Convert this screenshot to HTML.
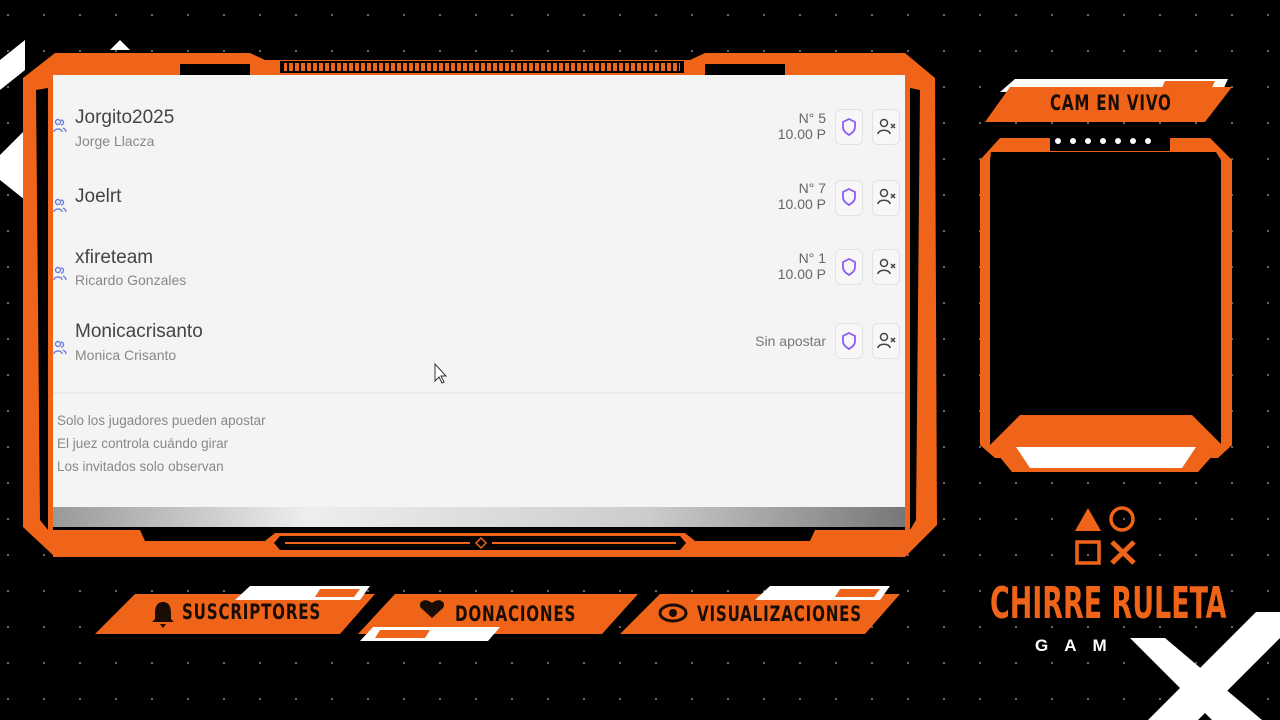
<!DOCTYPE html>
<html><head><meta charset="utf-8"><style>
html,body{margin:0;width:1280px;height:720px;overflow:hidden}
body{background:#000;position:relative;font-family:"Liberation Sans","DejaVu Sans",sans-serif}
svg{overflow:hidden}
.abs{position:absolute}
.panel{left:53px;top:75px;width:852px;height:432px;background:#f4f4f4}
.name{left:75px;font-size:19px;color:#444}
.sub{left:75px;font-size:14px;color:#888}
.num{font-size:14px;color:#666;text-align:right;width:120px;left:706px}
.btn{width:26px;height:34px;border:1px solid #e2e2e2;border-radius:6px;background:#f7f7f7}
.foot{left:57px;font-size:13.5px;color:#888}
.lbl{font-family:"DejaVu Sans Condensed","Liberation Sans Narrow",sans-serif;font-weight:bold;color:#1a0d06;font-size:21px;letter-spacing:1px;transform:scaleX(.8);transform-origin:left;white-space:nowrap}
</style></head><body>
<svg class="abs" style="left:0;top:0" width="1280" height="720">
<defs><pattern id="d" width="36" height="36" patternUnits="userSpaceOnUse"><rect x="7" y="14" width="2" height="2" fill="#666"/></pattern>
<linearGradient id="g" x1="0" x2="1"><stop offset="0" stop-color="#999"/><stop offset=".3" stop-color="#eee"/><stop offset=".7" stop-color="#ccc"/><stop offset="1" stop-color="#777"/></linearGradient></defs>
<rect width="1280" height="720" fill="url(#d)"/>
<polygon points="0,60 25,40 25,70 0,90" fill="#fff"/>
<polygon points="0,155 25,130 25,200 0,180" fill="#fff"/>
<polygon points="110,50 120,40 130,50" fill="#fff"/>
<polygon points="55,53 250,53 265,60 690,60 705,53 905,53 935,78 937,525 905,557 705,557 690,550 265,550 250,557 55,557 23,527 23,78" fill="#ef6418"/>
<polygon points="36,90 40,520 48,530 48,88" fill="#000"/>
<polygon points="920,90 916,520 910,530 910,88" fill="#000"/>
<rect x="180" y="64" width="70" height="11" fill="#000"/>
<rect x="705" y="64" width="80" height="11" fill="#000"/>
<rect x="280" y="61" width="404" height="12" fill="#000"/>
<rect x="284" y="63" width="396" height="8" fill="#ef6418"/>
<g stroke="#000" stroke-width="2"><path d="M288 63V71M294 63V71M300 63V71M306 63V71M312 63V71M318 63V71M324 63V71M330 63V71M336 63V71M342 63V71M348 63V71M354 63V71M360 63V71M366 63V71M372 63V71M378 63V71M384 63V71M390 63V71M396 63V71M402 63V71M408 63V71M414 63V71M420 63V71M426 63V71M432 63V71M438 63V71M444 63V71M450 63V71M456 63V71M462 63V71M468 63V71M474 63V71M480 63V71M486 63V71M492 63V71M498 63V71M504 63V71M510 63V71M516 63V71M522 63V71M528 63V71M534 63V71M540 63V71M546 63V71M552 63V71M558 63V71M564 63V71M570 63V71M576 63V71M582 63V71M588 63V71M594 63V71M600 63V71M606 63V71M612 63V71M618 63V71M624 63V71M630 63V71M636 63V71M642 63V71M648 63V71M654 63V71M660 63V71M666 63V71M672 63V71M678 63V71"/></g>
<rect x="53" y="527" width="852" height="30" fill="#000"/>
<polygon points="53,530 140,530 145,541 265,541 275,533 685,533 695,541 810,541 815,530 905,530 905,557 53,557" fill="#ef6418"/>
<polygon points="280,536 680,536 686,543 680,550 280,550 274,543" fill="#000"/>
<line x1="285" y1="543" x2="470" y2="543" stroke="#ef6418" stroke-width="2"/><line x1="492" y1="543" x2="676" y2="543" stroke="#ef6418" stroke-width="2"/>
<polygon points="481,538 486,543 481,548 476,543" fill="none" stroke="#ef6418" stroke-width="1.5"/>
<rect x="53" y="507" width="852" height="20" fill="url(#g)"/>
<polygon points="1015,79 1228,79 1222,92 1000,92" fill="#fff"/>
<polygon points="1010,87 1232,87 1205,122 985,122" fill="#ef6418"/>
<polygon points="1165,81 1215,81 1210,92 1160,92" fill="#ef6418"/>
<polygon points="1000,138 1210,138 1232,160 1232,445 1218,458 995,458 980,445 980,160" fill="#ef6418"/>
<polygon points="991,152 1216,152 1221,160 1221,445 990,445 990,160" fill="#000"/>
<rect x="1050" y="135" width="120" height="16" fill="#000"/>
<g fill="#fff"><circle cx="1058" cy="141" r="3"/><circle cx="1073" cy="141" r="3"/><circle cx="1088" cy="141" r="3"/><circle cx="1103" cy="141" r="3"/><circle cx="1118" cy="141" r="3"/><circle cx="1133" cy="141" r="3"/><circle cx="1148" cy="141" r="3"/></g>
<polygon points="1020,415 1192,415 1222,445 1198,472 1012,472 990,445" fill="#ef6418"/>
<polygon points="1016,447 1196,447 1182,468 1030,468" fill="#fff"/>
<polygon points="1088,508 1101,531 1075,531" fill="#ef6418"/>
<circle cx="1122" cy="519" r="11" fill="none" stroke="#ef6418" stroke-width="3.5"/>
<rect x="1077" y="542" width="22" height="21" fill="none" stroke="#ef6418" stroke-width="3.5"/>
<path d="M1112 542L1134 563M1134 542L1112 563" stroke="#ef6418" stroke-width="5"/>
<polygon points="135,594 375,594 340,634 95,634" fill="#ef6418"/>
<polygon points="250,586 370,586 360,600 235,600" fill="#fff"/><polygon points="320,589 360,589 354,597 315,597" fill="#ef6418"/>
<polygon points="395,594 638,594 602,634 358,634" fill="#ef6418"/>
<polygon points="373,627 500,627 488,641 360,641" fill="#fff"/><polygon points="380,630 430,630 425,638 375,638" fill="#ef6418"/>
<polygon points="660,594 900,594 865,634 620,634" fill="#ef6418"/>
<polygon points="770,586 890,586 880,600 755,600" fill="#fff"/><polygon points="840,589 880,589 874,597 835,597" fill="#ef6418"/>
<path d="M163 602c-6 0-8 5-8 11v6l-3 3h22l-3-3v-6c0-6-2-11-8-11z M160 624h6l-3 4z" fill="#1a0d06"/>
<path d="M432 618l-11-10c-4-6 4-11 11-5c7-6 15-1 11 5z" fill="#1a0d06"/>
<ellipse cx="673" cy="613" rx="13" ry="8" fill="none" stroke="#1a0d06" stroke-width="3"/><circle cx="673" cy="613" r="4" fill="#1a0d06"/>
</svg>
<div class="abs panel"></div>
<div class="abs lbl" style="left:1050px;top:91px">CAM EN VIVO</div>
<div class="abs lbl" style="left:182px;top:600px">SUSCRIPTORES</div>
<div class="abs lbl" style="left:455px;top:602px">DONACIONES</div>
<div class="abs lbl" style="left:697px;top:602px">VISUALIZACIONES</div>
<div class="abs" style="left:990px;top:578px;font-family:'DejaVu Sans Condensed',sans-serif;font-weight:bold;font-size:44px;color:#ef6418;transform:scaleX(.68);transform-origin:left;white-space:nowrap">CHIRRE RULETA</div>
<div class="abs" style="left:1035px;top:636px;color:#fff;font-weight:bold;font-size:17px;letter-spacing:16px">GAM</div>
<svg class="abs" style="left:0;top:0" width="1280" height="720">
<g fill="#fff"><polygon points="1130,638 1165,638 1262,720 1212,720"/><polygon points="1256,612 1280,612 1280,638 1198,720 1148,720"/></g>
</svg>
<div class="abs name" style="top:107px">Jorgito2025</div><div class="abs sub" style="top:133px">Jorge Llacza</div>
<div class="abs name" style="top:186px">Joelrt</div>
<div class="abs name" style="top:247px">xfireteam</div><div class="abs sub" style="top:272px">Ricardo Gonzales</div>
<div class="abs name" style="top:321px">Monicacrisanto</div><div class="abs sub" style="top:347px">Monica Crisanto</div>
<div class="abs num" style="top:110px">N° 5<br>10.00 P</div>
<div class="abs num" style="top:180px">N° 7<br>10.00 P</div>
<div class="abs num" style="top:250px">N° 1<br>10.00 P</div>
<div class="abs num" style="top:333px;color:#777">Sin apostar</div>
<div class="abs btn" style="left:835px;top:109px"></div><div class="abs btn" style="left:872px;top:109px"></div>
<div class="abs btn" style="left:835px;top:180px"></div><div class="abs btn" style="left:872px;top:180px"></div>
<div class="abs btn" style="left:835px;top:249px"></div><div class="abs btn" style="left:872px;top:249px"></div>
<div class="abs btn" style="left:835px;top:323px"></div><div class="abs btn" style="left:872px;top:323px"></div>
<svg class="abs" style="left:0;top:0" width="1280" height="720">
<g fill="none" stroke="#6a7fe0" stroke-width="1.4">
<g id="p"><circle cx="58" cy="122" r="2.5"/><path d="M54 132c0-4 8-4 8 0M61 120a2.5 2.5 0 1 1 0 5M63 128c2 1 3 2 3 4"/></g>
<use href="#p" y="80"/><use href="#p" y="148"/><use href="#p" y="222"/></g>
<g fill="none" stroke="#8b5cf6" stroke-width="1.8">
<path d="M849 119l6 3v5c0 4-3 6-6 8c-3-2-6-4-6-8v-5z"/><path d="M849 189l6 3v5c0 4-3 6-6 8c-3-2-6-4-6-8v-5z"/>
<path d="M849 259l6 3v5c0 4-3 6-6 8c-3-2-6-4-6-8v-5z"/><path d="M849 333l6 3v5c0 4-3 6-6 8c-3-2-6-4-6-8v-5z"/></g>
<g fill="none" stroke="#444" stroke-width="1.5">
<g id="u"><circle cx="884" cy="123" r="3.5"/><path d="M878 134c0-5 12-5 12 0M891 124l4 4M895 124l-4 4"/></g>
<use href="#u" y="70"/><use href="#u" y="140"/><use href="#u" y="214"/></g>
<line x1="53" y1="393" x2="905" y2="393" stroke="#e2e2e2"/>
<path d="M435 364v17l4-4l3 6l2-1l-3-6h5z" fill="#fff" stroke="#333"/>
</svg>
<div class="abs foot" style="top:413px">Solo los jugadores pueden apostar</div>
<div class="abs foot" style="top:436px">El juez controla cuándo girar</div>
<div class="abs foot" style="top:459px">Los invitados solo observan</div>
</body></html>
